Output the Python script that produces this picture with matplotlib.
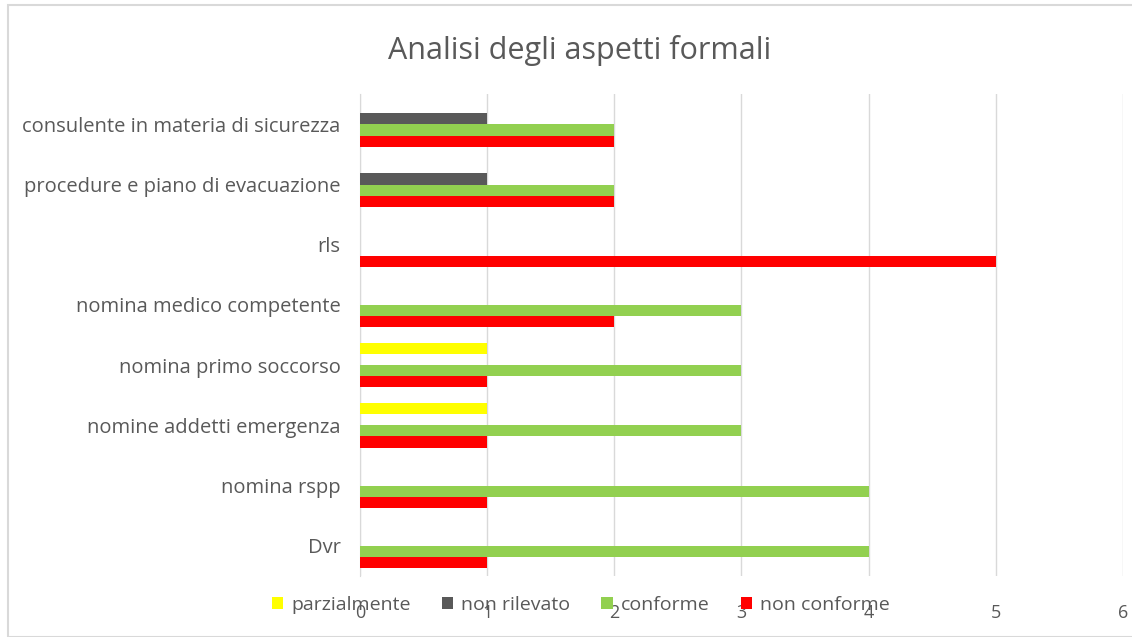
import numpy as np
import matplotlib.pyplot as plt
from matplotlib.patches import Rectangle

categories = ['Dvr', 'nomina rspp', 'nomine addetti emergenza', 'nomina primo soccorso',
              'nomina medico competente', 'rls', 'procedure e piano di evacuazione',
              'consulente in materia di sicurezza']
non_conforme = [1, 1, 1, 1, 2, 5, 2, 2]
conforme = [4, 4, 3, 3, 3, 0, 2, 2]
non_rilevato = [0, 0, 0, 0, 0, 0, 1, 1]
parzialmente = [0, 0, 1, 1, 0, 0, 0, 0]

plt.rcParams['font.family'] = ['Open Sans', 'DejaVu Sans']

fig = plt.figure(figsize=(11.32, 6.37), dpi=100)
ax = fig.add_axes([0.318, 0.096, 0.674, 0.756])

y = np.arange(len(categories))
h = 0.185
series = [(non_conforme, '#FF0000', 'non conforme'),
          (conforme, '#92D050', 'conforme'),
          (non_rilevato, '#595959', 'non rilevato'),
          (parzialmente, '#FFFF00', 'parzialmente')]
bars = {}
for i, (vals, col, lab) in enumerate(series):
    bars[lab] = ax.barh(y + (i - 1.5) * h, vals, height=h, color=col, label=lab, zorder=3)

ax.set_xlim(0, 6)
ax.set_ylim(-0.5, len(categories) - 0.5)
ax.set_yticks(y)
ax.set_yticklabels(categories, fontsize=14.5, color='#595959')
ax.set_xticks(range(7))
ax.tick_params(axis='both', length=0, labelcolor='#595959')
ax.tick_params(axis='x', pad=20, labelsize=13)
ax.tick_params(axis='y', pad=14)
ax.grid(axis='x', color='#d9d9d9', linewidth=1, zorder=0)
for s in ['top', 'right', 'bottom']:
    ax.spines[s].set_visible(False)
ax.spines['left'].set_color('#d9d9d9')

fig.suptitle('Analisi degli aspetti formali', x=0.512, y=0.945, fontsize=22, color='#595959')

order = ['parzialmente', 'non rilevato', 'conforme', 'non conforme']
fig.legend([bars[k] for k in order], order, loc='center', ncol=4, frameon=False,
           bbox_to_anchor=(0.513, 1 - 605 / 637), fontsize=14, handlelength=0.6,
           handleheight=0.6, handletextpad=0.4, columnspacing=1.6, labelcolor='#595959')

fig.patches.append(Rectangle((8 / 1132, 0), 1.2, 1 - 5 / 637, transform=fig.transFigure,
                             fill=False, edgecolor='#d9d9d9', linewidth=1.5))

fig.savefig('out.png', dpi=100)
